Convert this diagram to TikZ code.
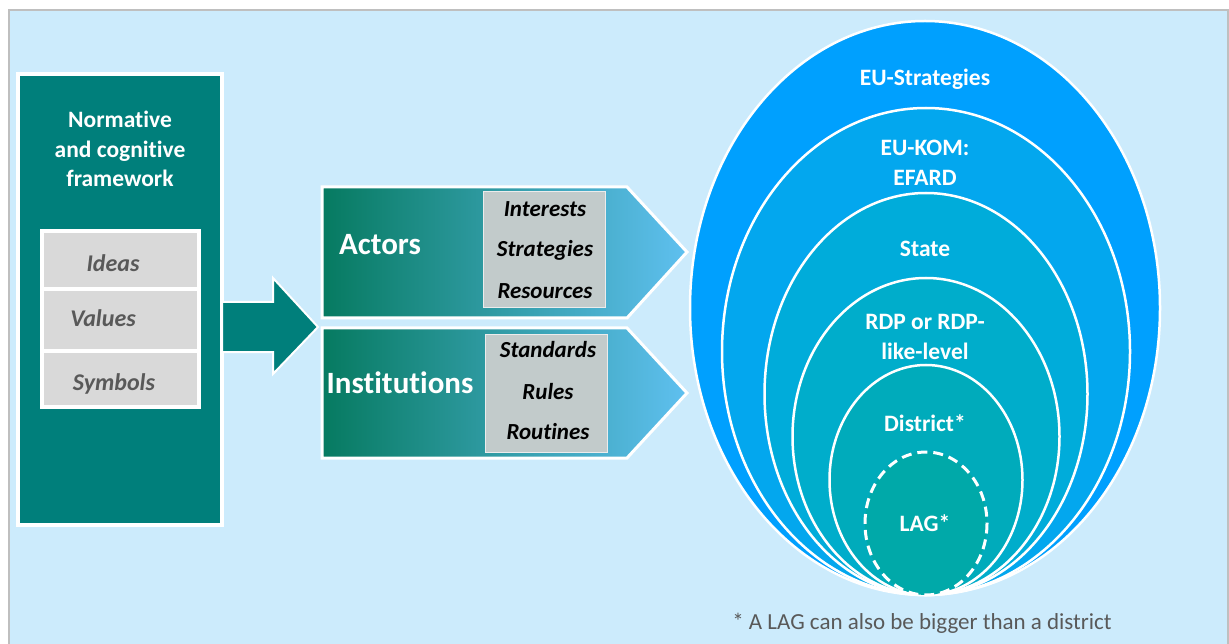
\documentclass[tikz,border=0pt]{standalone}
\usepackage{fontspec}
\setmainfont{Carlito}[RawFeature=-liga]
\usepackage{xcolor}
\usetikzlibrary{positioning, shapes.geometric}

\definecolor{panelblue}{HTML}{CCEBFC}
\definecolor{framegray}{HTML}{BFBFBF}
\definecolor{normteal}{HTML}{007F7B}
\definecolor{itemgray}{HTML}{D9D9D9}
\definecolor{itemtext}{HTML}{595959}
\definecolor{chevgreen}{HTML}{067A60}
\definecolor{chevmid}{HTML}{168F80}
\definecolor{chevblue}{HTML}{5FC0F0}
\definecolor{listgray}{HTML}{C2CBCB}
\definecolor{levelone}{HTML}{00A0FE}
\definecolor{leveltwo}{HTML}{03A7EE}
\definecolor{levelthree}{HTML}{00ACDA}
\definecolor{levelfour}{HTML}{00ADCB}
\definecolor{levelfive}{HTML}{00ABBB}
\definecolor{levelsix}{HTML}{00A9A9}

\tikzset{
    headtext/.style={text=white, align=center, font=\bfseries\fontsize{23.5}{29.5}\selectfont},
    bigtext/.style={text=white, font=\bfseries\fontsize{31}{36}\selectfont},
    itemlabel/.style={text=itemtext, font=\bfseries\itshape\fontsize{24}{28}\selectfont},
    listlabel/.style={text=black, font=\bfseries\itshape\fontsize{23}{28}\selectfont},
    levellabel/.style={text=white, align=center, font=\bfseries\fontsize{23.5}{30}\selectfont},
    level/.style={draw=white, line width=2.5pt},
    chevron/.style={draw=white, line width=3pt, left color=chevgreen, middle color=chevmid, right color=chevblue}
}

\begin{document}
\begin{tikzpicture}[x=1pt, y=-1pt]
    \useasboundingbox (0,0) rectangle (1229,644);
    % panel
    \fill[white] (0,0) rectangle (1229,644);
    \draw[framegray, line width=2.5pt, fill=panelblue] (9,10) rectangle (1228,660);

    % normative and cognitive framework
    \draw[white, line width=4pt, fill=normteal] (18,74) rectangle (222,525);
    \node[headtext] (frame) at (120,149) {Normative\\and cognitive\\framework};
    \fill[white] (40,229) rectangle (201,409);
    \fill[itemgray] (44,233) rectangle (197,287);
    \fill[itemgray] (44,291) rectangle (197,349);
    \fill[itemgray] (44,353) rectangle (197,405);
    \node[itemlabel] (ideas) at (113,263) {Ideas};
    \node[itemlabel] (values) at (103,318) {Values};
    \node[itemlabel] (symbols) at (114,384) {Symbols};

    % block arrow
    \draw[white, line width=2pt, fill=normteal]
        (222,302) -- (273,302) -- (273,278) -- (318,327) -- (273,374) -- (273,352) -- (222,352) -- cycle;

    % actors and institutions
    \path[chevron] (322,187) -- (627,187) -- (687,252) -- (627,318) -- (322,318) -- cycle;
    \path[chevron] (322,328) -- (627,328) -- (687,393) -- (627,458) -- (322,458) -- cycle;
    \node[bigtext] (actors) at (380,245) {Actors};
    \node[bigtext] (institutions) at (400,383) {Institutions};
    \draw[white!85!gray, line width=1pt, fill=listgray] (483,192) rectangle (605,308);
    \draw[white!85!gray, line width=1pt, fill=listgray] (485,335) rectangle (607,452);
    \node[listlabel] (interests) at (545,209) {Interests};
    \node[listlabel] (strategies) at (545,250) {Strategies};
    \node[listlabel] (resources) at (545,291) {Resources};
    \node[listlabel] (standards) at (548,350) {Standards};
    \node[listlabel] (rules) at (548,392) {Rules};
    \node[listlabel] (routines) at (548,432) {Routines};

    % nested levels
    \draw[level, fill=levelone] (925,308) ellipse [x radius=235, y radius=287];
    \draw[level, fill=leveltwo] (926,351.5) ellipse [x radius=204, y radius=243.5];
    \draw[level, fill=levelthree] (926,394) ellipse [x radius=161.5, y radius=201];
    \draw[level, fill=levelfour] (926,436.5) ellipse [x radius=133.5, y radius=158.5];
    \draw[level, fill=levelfive] (926,480) ellipse [x radius=96.5, y radius=115];
    \draw[level, fill=levelsix, line width=3pt, dash pattern=on 10pt off 6pt] (926,523.5) ellipse [x radius=61, y radius=71.5];
    \node[levellabel] (eu) at (925,79) {EU-Strategies};
    \node[levellabel] (eukom) at (925,163) {EU-KOM:\\EFARD};
    \node[levellabel] (state) at (925,249) {State};
    \node[levellabel] (rdp) at (925,337) {RDP or RDP-\\like-level};
    \node[levellabel] (district) at (925,423) {District*};
    \node[levellabel] (lag) at (925,523) {LAG*};
    \node[text=itemtext, font=\fontsize{23}{26}\selectfont] (note) at (922,623) {* A LAG can also be bigger than a district};
\end{tikzpicture}
\end{document}
